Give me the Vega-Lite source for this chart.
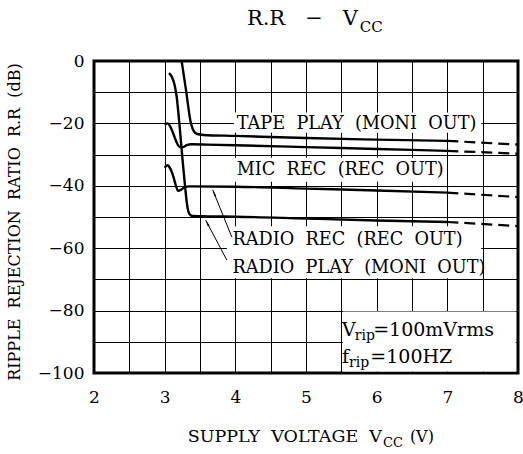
{
  "$schema": "https://vega.github.io/schema/vega-lite/v6.json",
  "width": 424,
  "height": 312,
  "autosize": {"type": "none"},
  "padding": {"left": 94, "top": 61, "right": 5, "bottom": 81},
  "background": "white",
  "config": {"view": {"stroke": "black", "strokeWidth": 3}, "font": "DejaVu Serif"},
  "datasets": {
    "curves": [
      {"c": "tape", "s": "s", "v": 3.22, "db": 3},
      {"c": "tape", "s": "s", "v": 3.30, "db": -9},
      {"c": "tape", "s": "s", "v": 3.37, "db": -19.8},
      {"c": "tape", "s": "s", "v": 3.41, "db": -22.4},
      {"c": "tape", "s": "s", "v": 3.46, "db": -23.4},
      {"c": "tape", "s": "s", "v": 3.55, "db": -23.7},
      {"c": "tape", "s": "s", "v": 4.0, "db": -24.0},
      {"c": "tape", "s": "s", "v": 5.0, "db": -24.7},
      {"c": "tape", "s": "s", "v": 6.0, "db": -25.2},
      {"c": "tape", "s": "s", "v": 7.0, "db": -25.6},
      {"c": "tape", "s": "d", "v": 7.0, "db": -25.6},
      {"c": "tape", "s": "d", "v": 8.0, "db": -26.8},
      {"c": "mic", "s": "s", "v": 3.0, "db": -20.4},
      {"c": "mic", "s": "s", "v": 3.04, "db": -20.0},
      {"c": "mic", "s": "s", "v": 3.08, "db": -21.0},
      {"c": "mic", "s": "s", "v": 3.13, "db": -23.8},
      {"c": "mic", "s": "s", "v": 3.18, "db": -26.6},
      {"c": "mic", "s": "s", "v": 3.22, "db": -27.6},
      {"c": "mic", "s": "s", "v": 3.26, "db": -27.6},
      {"c": "mic", "s": "s", "v": 3.31, "db": -27.0},
      {"c": "mic", "s": "s", "v": 3.38, "db": -26.7},
      {"c": "mic", "s": "s", "v": 3.6, "db": -26.8},
      {"c": "mic", "s": "s", "v": 4.0, "db": -27.0},
      {"c": "mic", "s": "s", "v": 5.0, "db": -27.6},
      {"c": "mic", "s": "s", "v": 6.0, "db": -28.2},
      {"c": "mic", "s": "s", "v": 7.0, "db": -28.8},
      {"c": "mic", "s": "d", "v": 7.0, "db": -28.8},
      {"c": "mic", "s": "d", "v": 8.0, "db": -29.7},
      {"c": "rplay", "s": "s", "v": 3.06, "db": -3.9},
      {"c": "rplay", "s": "s", "v": 3.10, "db": -5.0},
      {"c": "rplay", "s": "s", "v": 3.14, "db": -7.6},
      {"c": "rplay", "s": "s", "v": 3.17, "db": -11.5},
      {"c": "rplay", "s": "s", "v": 3.21, "db": -20.5},
      {"c": "rplay", "s": "s", "v": 3.25, "db": -31},
      {"c": "rplay", "s": "s", "v": 3.29, "db": -40.5},
      {"c": "rplay", "s": "s", "v": 3.32, "db": -46.5},
      {"c": "rplay", "s": "s", "v": 3.35, "db": -49},
      {"c": "rplay", "s": "s", "v": 3.40, "db": -49.7},
      {"c": "rplay", "s": "s", "v": 3.6, "db": -49.8},
      {"c": "rplay", "s": "s", "v": 4.0, "db": -49.9},
      {"c": "rplay", "s": "s", "v": 5.0, "db": -50.5},
      {"c": "rplay", "s": "s", "v": 6.0, "db": -51.1},
      {"c": "rplay", "s": "s", "v": 7.0, "db": -51.6},
      {"c": "rplay", "s": "d", "v": 7.0, "db": -51.6},
      {"c": "rplay", "s": "d", "v": 8.0, "db": -52.9},
      {"c": "rrec", "s": "s", "v": 3.0, "db": -34.2},
      {"c": "rrec", "s": "s", "v": 3.04, "db": -33.4},
      {"c": "rrec", "s": "s", "v": 3.08, "db": -34.5},
      {"c": "rrec", "s": "s", "v": 3.12, "db": -36.8},
      {"c": "rrec", "s": "s", "v": 3.16, "db": -40.0},
      {"c": "rrec", "s": "s", "v": 3.19, "db": -41.6},
      {"c": "rrec", "s": "s", "v": 3.23, "db": -41.3},
      {"c": "rrec", "s": "s", "v": 3.28, "db": -40.5},
      {"c": "rrec", "s": "s", "v": 3.35, "db": -40.2},
      {"c": "rrec", "s": "s", "v": 4.0, "db": -40.3},
      {"c": "rrec", "s": "s", "v": 5.0, "db": -40.9},
      {"c": "rrec", "s": "s", "v": 6.0, "db": -41.5},
      {"c": "rrec", "s": "s", "v": 7.0, "db": -42.2},
      {"c": "rrec", "s": "d", "v": 7.0, "db": -42.2},
      {"c": "rrec", "s": "d", "v": 8.0, "db": -43.6},
      {"c": "l1", "s": "l", "v": 3.68, "db": -41.3},
      {"c": "l1", "s": "l", "v": 3.95, "db": -56.4},
      {"c": "l2", "s": "l", "v": 3.58, "db": -51.0},
      {"c": "l2", "s": "l", "v": 3.88, "db": -63.8}
    ]
  },
  "encoding": {
    "x": {
      "field": "v", "type": "quantitative",
      "scale": {"domain": [2, 8], "nice": false, "zero": false},
      "axis": {
        "values": [2, 2.5, 3, 3.5, 4, 4.5, 5, 5.5, 6, 6.5, 7, 7.5, 8],
        "labelExpr": "datum.value % 1 === 0 ? format(datum.value, 'd') : ''",
        "grid": true, "gridColor": "#000", "gridWidth": 1, "gridOpacity": 1,
        "ticks": false, "domain": false,
        "labelFont": "DejaVu Serif", "labelFontSize": 17, "labelColor": "#000",
        "labelPadding": 16, "labelFlush": false, "labelOverlap": false, "labelBound": false,
        "title": null
      }
    },
    "y": {
      "field": "db", "type": "quantitative",
      "scale": {"domain": [-100, 0], "nice": false, "zero": false},
      "axis": {
        "values": [-100, -90, -80, -70, -60, -50, -40, -30, -20, -10, 0],
        "labelExpr": "datum.value % 20 === 0 ? datum.label : ''",
        "grid": true, "gridColor": "#000", "gridWidth": 1, "gridOpacity": 1,
        "ticks": false, "domain": false,
        "labelFont": "DejaVu Serif", "labelFontSize": 17, "labelColor": "#000",
        "labelPadding": 10, "labelFlush": false, "labelOverlap": false, "labelBound": false,
        "title": null
      }
    }
  },
  "layer": [
    {
      "data": {"values": [
        {"v": 3.98, "v2": 7.48, "db": -23.0, "db2": -16.5},
        {"v": 3.98, "v2": 6.98, "db": -38.7, "db2": -31.0},
        {"v": 3.88, "v2": 7.48, "db": -69.6, "db2": -53.0},
        {"v": 5.52, "v2": 7.97, "db": -99.5, "db2": -80.3}
      ]},
      "mark": {"type": "rect", "fill": "white", "strokeWidth": 0},
      "encoding": {"x2": {"field": "v2"}, "y2": {"field": "db2"}}
    },
    {
      "data": {"name": "curves"},
      "transform": [{"filter": "datum.s === 's'"}],
      "mark": {"type": "line", "color": "black", "strokeWidth": 2.4, "interpolate": "monotone", "clip": true},
      "encoding": {"detail": {"field": "c"}}
    },
    {
      "data": {"name": "curves"},
      "transform": [{"filter": "datum.s === 'd'"}],
      "mark": {"type": "line", "color": "black", "strokeWidth": 2.2, "strokeDash": [11, 6], "clip": true},
      "encoding": {"detail": {"field": "c"}}
    },
    {
      "data": {"name": "curves"},
      "transform": [{"filter": "datum.s === 'l'"}],
      "mark": {"type": "line", "color": "black", "strokeWidth": 1, "clip": true},
      "encoding": {"detail": {"field": "c"}}
    },
    {
      "data": {"values": [{"v": 3.68, "db": -41.3}]},
      "mark": {"type": "point", "shape": "M0,0L0.35,2.2L-0.35,2.2Z", "size": 36, "filled": true, "color": "black", "opacity": 1, "angle": 338}
    },
    {
      "data": {"values": [{"v": 3.58, "db": -51.0}]},
      "mark": {"type": "point", "shape": "M0,0L0.35,2.2L-0.35,2.2Z", "size": 36, "filled": true, "color": "black", "opacity": 1, "angle": 332}
    },
    {
      "data": {"values": [
        {"t": "TAPE \u00a0PLAY \u00a0(MONI \u00a0OUT)", "v": 4.02, "db": -20.2},
        {"t": "MIC \u00a0REC \u00a0(REC \u00a0OUT)", "v": 4.02, "db": -34.9},
        {"t": "RADIO \u00a0REC \u00a0(REC \u00a0OUT)", "v": 3.96, "db": -57.4},
        {"t": "RADIO \u00a0PLAY \u00a0(MONI \u00a0OUT)", "v": 3.96, "db": -66.3}
      ]},
      "mark": {"type": "text", "align": "left", "baseline": "middle", "font": "DejaVu Serif", "fontSize": 17.7, "color": "black"},
      "encoding": {"text": {"field": "t"}}
    },
    {
      "data": {"values": [
        {"t": "V", "v": 5.51, "db": -86.2},
        {"t": "=100mVrms", "v": 5.95, "db": -86.2},
        {"t": "f", "v": 5.51, "db": -94.9},
        {"t": "=100HZ", "v": 5.91, "db": -94.9}
      ]},
      "mark": {"type": "text", "align": "left", "baseline": "middle", "font": "DejaVu Serif", "fontSize": 19, "color": "black"},
      "encoding": {"text": {"field": "t"}}
    },
    {
      "data": {"values": [
        {"t": "rip", "v": 5.69, "db": -88.0},
        {"t": "rip", "v": 5.61, "db": -96.7}
      ]},
      "mark": {"type": "text", "align": "left", "baseline": "middle", "font": "DejaVu Serif", "fontSize": 14, "color": "black"},
      "encoding": {"text": {"field": "t"}}
    },
    {
      "data": {"values": [{"t": "R.R \u00a0\u00a0− \u00a0\u00a0V", "v": 5.736, "db": 13.5}]},
      "mark": {"type": "text", "align": "right", "baseline": "middle", "font": "DejaVu Serif", "fontSize": 21, "color": "black"},
      "encoding": {"text": {"field": "t"}}
    },
    {
      "data": {"values": [{"t": "CC", "v": 5.76, "db": 11.0}]},
      "mark": {"type": "text", "align": "left", "baseline": "middle", "font": "DejaVu Serif", "fontSize": 15, "color": "black"},
      "encoding": {"text": {"field": "t"}}
    },
    {
      "data": {"values": [{"t": "SUPPLY \u00a0VOLTAGE \u00a0V", "v": 6.075, "db": -120.5}]},
      "mark": {"type": "text", "align": "right", "baseline": "middle", "font": "DejaVu Serif", "fontSize": 17.5, "color": "black"},
      "encoding": {"text": {"field": "t"}}
    },
    {
      "data": {"values": [{"t": "CC", "v": 6.09, "db": -122.3}]},
      "mark": {"type": "text", "align": "left", "baseline": "middle", "font": "DejaVu Serif", "fontSize": 13, "color": "black"},
      "encoding": {"text": {"field": "t"}}
    },
    {
      "data": {"values": [{"t": "(V)", "v": 6.47, "db": -120.5}]},
      "mark": {"type": "text", "align": "left", "baseline": "middle", "font": "DejaVu Serif", "fontSize": 16, "color": "black"},
      "encoding": {"text": {"field": "t"}}
    },
    {
      "data": {"values": [{"t": "RIPPLE \u00a0REJECTION \u00a0RATIO \u00a0R.R \u00a0(dB)", "v": 0.882, "db": -51.6}]},
      "mark": {"type": "text", "align": "center", "baseline": "middle", "angle": 270, "font": "DejaVu Serif", "fontSize": 16, "color": "black"},
      "encoding": {"text": {"field": "t"}}
    }
  ]
}
